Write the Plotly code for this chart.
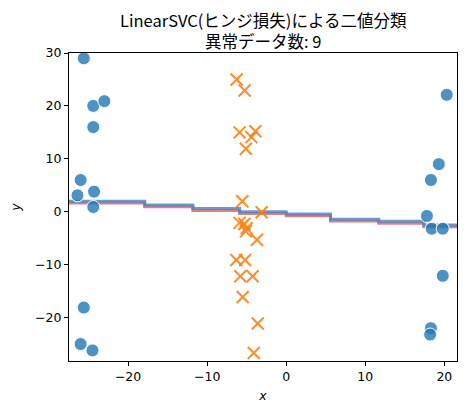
import plotly.graph_objects as go

# Normal class (blue circles)
normal_x = [-25.6, -24.4, -23.0, -24.4, -26.0, -26.4, -24.3, -24.4, -25.6, -26.0, -24.5,
            20.3, 19.3, 18.3, 17.8, 18.4, 19.8, 19.8, 18.3, 18.2]
normal_y = [29.0, 20.0, 20.9, 16.0, 6.0, 3.1, 3.8, 0.9, -18.1, -25.0, -26.2,
            22.1, 9.0, 6.0, -0.8, -3.2, -3.2, -12.1, -22.0, -23.2]

# Anomaly class (orange crosses)
anom_x = [-6.27, -5.26, -5.9, -3.9, -4.4, -5.1, -5.55, -3.1, -5.9, -5.3, -5.0, -5.1,
          -3.7, -6.3, -5.2, -5.8, -4.25, -5.5, -3.6, -4.1]
anom_y = [25.0, 22.9, 15.0, 15.2, 14.1, 11.9, 2.0, -0.1, -2.1, -2.3, -3.1, -3.7,
          -5.3, -9.1, -9.1, -12.2, -12.2, -16.1, -21.1, -26.7]

# Decision boundary (step contour)
boundary_x = [-27.5, -17.9, -17.9, -11.8, -11.8, -5.9, -5.9, 0.0, 0.0, 5.6, 5.6, 11.7, 11.7, 17.4, 17.4, 21.6]
boundary_y = [2.0, 2.0, 1.3, 1.3, 0.6, 0.6, 0.0, 0.0, -0.4, -0.4, -1.4, -1.4, -1.8, -1.8, -2.5, -2.5]

title_lines = ["LinearSVC(ヒンジ損失)による二値分類", "異常データ数: 9"]

RED_SHIFT = -0.35

fig = go.Figure()
fig.add_trace(go.Scatter(x=boundary_x, y=[v + RED_SHIFT for v in boundary_y], mode="lines",
                         line=dict(color="rgba(220,80,90,0.75)", width=3), hoverinfo="skip"))
fig.add_trace(go.Scatter(x=boundary_x, y=boundary_y, mode="lines",
                         line=dict(color="rgba(70,130,190,0.8)", width=3), hoverinfo="skip"))
fig.add_trace(go.Scatter(x=normal_x, y=normal_y, mode="markers",
                         marker=dict(symbol="circle", size=13, color="rgba(31,119,180,0.8)",
                                     line=dict(color="white", width=1))))
fig.add_trace(go.Scatter(x=anom_x, y=anom_y, mode="markers",
                         marker=dict(symbol="x-thin", size=12,
                                     line=dict(color="rgba(255,127,14,0.9)", width=2))))

axis_common = dict(showgrid=False, zeroline=False, showline=True, linecolor="black", linewidth=1,
                   mirror=True, ticks="outside", ticklen=4, tickcolor="black", automargin=False,
                   tickfont=dict(family="DejaVu Sans", size=12.5, color="black"))

# page body has an 8px margin, so the figure is offset by 8px
fig.update_layout(
    width=458, height=406,
    margin=dict(l=61, r=9, t=45, b=53),
    plot_bgcolor="white", paper_bgcolor="white",
    showlegend=False,
    xaxis=dict(range=[-27.47, 21.6], tickvals=[-20, -10, 0, 10, 20],
               title=dict(text="<i>x</i>", standoff=8,
                          font=dict(family="DejaVu Sans", size=12.5, color="black")),
               **axis_common),
    yaxis=dict(range=[-28.2, 30], tickvals=[-20, -10, 0, 10, 20, 30],
               title=dict(text="<i>y</i>", standoff=12,
                          font=dict(family="DejaVu Sans", size=12.5, color="black")),
               **axis_common),
)

fig.add_annotation(text=title_lines[0], xref="paper", yref="paper", x=0.5, y=1,
                   yshift=33.5, yanchor="middle", showarrow=False,
                   font=dict(family="Noto Sans CJK JP, DejaVu Sans", size=16.5, color="black"))
fig.add_annotation(text=title_lines[1], xref="paper", yref="paper", x=0.5, y=1,
                   yshift=12.5, yanchor="middle", showarrow=False,
                   font=dict(family="Noto Sans CJK JP, DejaVu Sans", size=16.5, color="black"))

fig.write_html("out.html")
